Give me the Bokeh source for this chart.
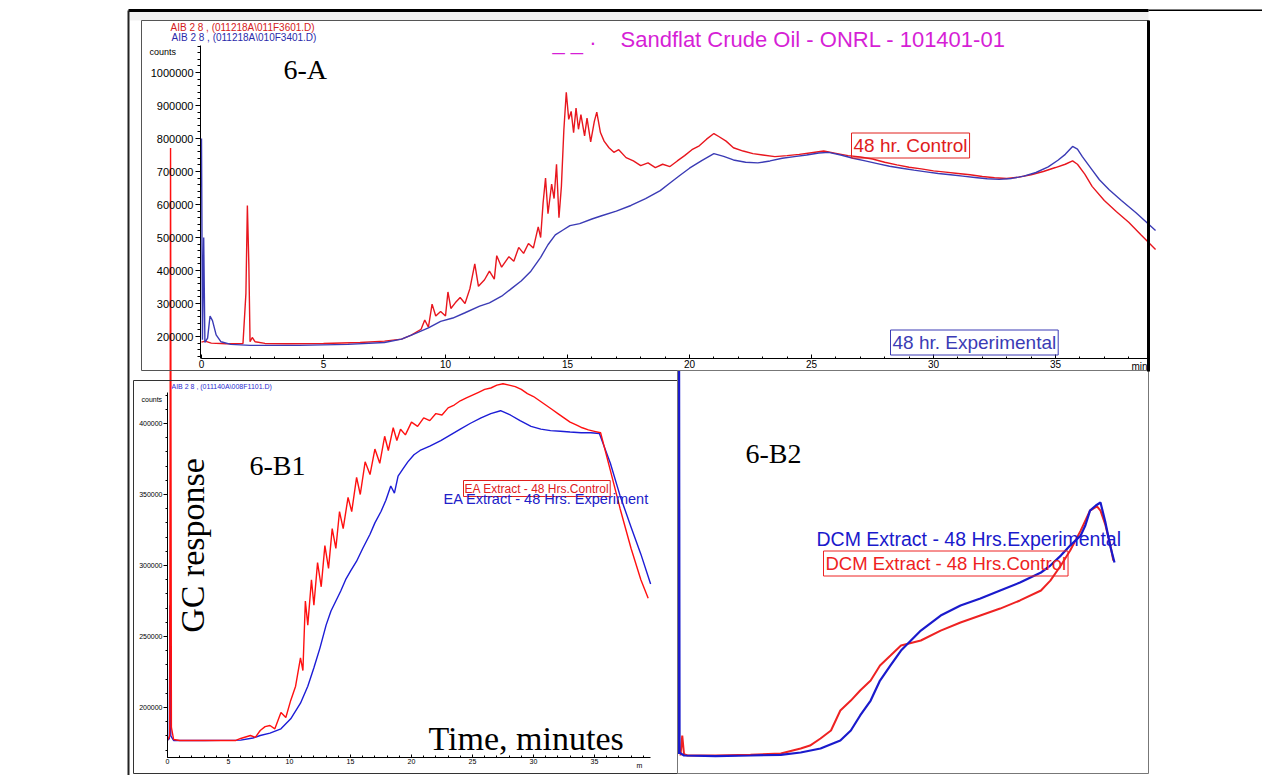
from math import pi
from bokeh.plotting import figure
from bokeh.models import (Range1d, LinearAxis, FixedTicker, BasicTickFormatter,
                          Label, BoxAnnotation)
from bokeh.embed import file_html
from bokeh.resources import INLINE

# ---------------- data (minutes, counts) ----------------
# Panel 6-A : Sandflat crude oil, 48 hr control (red) and experimental (blue)
a_control = [
    (0.00, 183000), (0.15, 186000), (0.40, 180000), (1.00, 178000), (1.70, 179000),
    (1.82, 330000), (1.88, 597000), (1.94, 420000), (1.99, 184000), (2.08, 197000),
    (2.20, 184000), (2.60, 179000), (3.50, 178000), (5.00, 179000), (6.50, 182000),
    (7.50, 186000), (8.20, 192000), (8.60, 204000), (9.00, 222000), (9.15, 250000),
    (9.30, 228000), (9.45, 298000), (9.60, 262000), (9.80, 276000), (10.00, 262000),
    (10.10, 335000), (10.22, 285000), (10.40, 302000), (10.60, 318000), (10.80, 300000),
    (11.00, 345000), (11.20, 420000), (11.35, 352000), (11.60, 372000), (11.80, 398000),
    (12.00, 374000), (12.10, 445000), (12.30, 410000), (12.60, 442000), (12.80, 428000),
    (13.00, 470000), (13.20, 452000), (13.40, 482000), (13.60, 468000), (13.80, 532000),
    (13.90, 500000), (14.00, 605000), (14.10, 680000), (14.20, 572000), (14.35, 662000),
    (14.45, 618000), (14.55, 722000), (14.65, 560000), (14.75, 655000), (14.85, 825000),
    (14.95, 940000), (15.05, 858000), (15.15, 882000), (15.25, 818000), (15.35, 892000),
    (15.45, 828000), (15.55, 872000), (15.70, 808000), (15.80, 862000), (15.95, 790000),
    (16.10, 852000), (16.20, 880000), (16.35, 818000), (16.50, 792000), (16.70, 772000),
    (16.90, 758000), (17.10, 766000), (17.40, 742000), (17.70, 732000), (18.00, 718000),
    (18.30, 726000), (18.60, 712000), (18.90, 722000), (19.20, 715000), (19.50, 732000),
    (19.80, 748000), (20.10, 766000), (20.40, 778000), (20.70, 798000), (21.00, 815000),
    (21.20, 806000), (21.50, 792000), (21.80, 772000), (22.20, 762000), (22.60, 754000),
    (23.00, 750000), (23.50, 745000), (24.00, 748000), (24.50, 752000), (25.00, 757000),
    (25.50, 762000), (26.00, 755000), (26.50, 748000), (27.00, 744000), (27.50, 738000),
    (28.00, 728000), (28.50, 720000), (29.00, 713000), (29.50, 708000), (30.00, 702000),
    (30.50, 698000), (31.00, 694000), (31.50, 690000), (32.00, 685000), (32.50, 681000),
    (33.00, 679000), (33.50, 683000), (34.00, 690000), (34.50, 700000), (35.00, 712000),
    (35.40, 722000), (35.70, 732000), (35.90, 722000), (36.20, 692000), (36.50, 655000),
    (37.00, 612000), (37.50, 578000), (38.00, 546000), (38.50, 508000), (39.10, 464000),
]
a_experimental = [
    (0.00, 800000), (0.04, 190000), (0.09, 500000), (0.14, 182000), (0.25, 195000),
    (0.35, 262000), (0.45, 248000), (0.60, 205000), (0.80, 184000), (1.20, 176000),
    (2.00, 173000), (4.00, 173000), (6.00, 176000), (7.50, 182000), (8.20, 192000),
    (8.80, 210000), (9.30, 226000), (9.80, 246000), (10.30, 256000), (10.80, 272000),
    (11.40, 292000), (11.80, 302000), (12.30, 322000), (12.70, 345000), (13.10, 368000),
    (13.50, 398000), (13.90, 440000), (14.20, 478000), (14.50, 508000), (14.80, 522000),
    (15.10, 536000), (15.50, 542000), (16.00, 556000), (16.40, 566000), (17.00, 580000),
    (17.60, 597000), (18.20, 618000), (18.80, 642000), (19.20, 665000), (19.60, 688000),
    (20.00, 710000), (20.50, 733000), (21.00, 754000), (21.40, 746000), (21.80, 735000),
    (22.30, 728000), (22.80, 726000), (23.30, 732000), (23.80, 740000), (24.30, 745000),
    (24.80, 750000), (25.30, 756000), (25.70, 758000), (26.20, 750000), (26.70, 740000),
    (27.20, 732000), (27.70, 724000), (28.20, 716000), (28.70, 710000), (29.20, 704000),
    (29.70, 699000), (30.20, 694000), (30.70, 690000), (31.20, 686000), (31.70, 682000),
    (32.20, 678000), (32.70, 676000), (33.20, 679000), (33.70, 686000), (34.20, 697000),
    (34.70, 714000), (35.10, 734000), (35.40, 752000), (35.70, 776000), (35.90, 768000),
    (36.10, 745000), (36.50, 705000), (36.80, 675000), (37.20, 645000), (37.70, 612000),
    (38.30, 575000), (39.10, 521000),
]
# Panel 6-B1 : EA extract
b1_control = [
    (0.00, 177000), (0.18, 180000), (0.25, 594000), (0.32, 186000), (0.50, 177500),
    (1.00, 176800), (3.00, 176800), (5.60, 176800), (6.00, 178200), (6.80, 180300),
    (7.20, 179000), (7.60, 183800), (8.00, 186500), (8.40, 187300), (8.80, 185000),
    (9.30, 196500), (9.70, 193000), (10.10, 205000), (10.50, 215000), (10.90, 235000),
    (11.10, 226000), (11.30, 275000), (11.50, 258000), (11.80, 290000), (12.00, 272000),
    (12.30, 302000), (12.60, 285000), (12.90, 314000), (13.20, 298000), (13.50, 326000),
    (13.80, 312000), (14.10, 338000), (14.40, 326000), (14.80, 348000), (15.10, 338000),
    (15.50, 362000), (15.80, 350000), (16.20, 373000), (16.60, 364000), (17.00, 382000),
    (17.40, 372000), (17.80, 391000), (18.10, 381000), (18.50, 397000), (18.80, 388000),
    (19.10, 396000), (19.50, 392000), (20.00, 401000), (20.50, 398000), (21.00, 404000),
    (21.50, 402000), (22.00, 407000), (22.50, 406000), (23.00, 411000), (23.50, 413000),
    (24.00, 416000), (24.50, 418000), (25.00, 420000), (25.50, 422000), (26.00, 424000),
    (26.50, 425000), (27.00, 427000), (27.50, 428000), (28.00, 427000), (28.50, 426000),
    (29.00, 424000), (29.50, 421000), (30.00, 419000), (30.50, 416000), (31.00, 413000),
    (31.50, 410000), (32.00, 407000), (32.50, 404000), (33.00, 401000), (33.50, 399000),
    (34.00, 397000), (34.50, 395500), (35.00, 394500), (35.50, 393500), (36.30, 367000),
    (37.10, 340000), (38.00, 312000), (38.80, 290000), (39.40, 277000),
]
b1_experimental = [
    (0.00, 177000), (0.15, 178000), (0.20, 272000), (0.27, 180000), (0.50, 176800),
    (3.00, 176800), (6.00, 177000), (7.00, 178500), (7.60, 180300), (8.40, 182000),
    (9.30, 185000), (10.10, 192000), (10.90, 203000), (11.50, 215000), (12.00, 228000),
    (12.50, 242000), (13.00, 258000), (13.40, 268000), (13.80, 275000), (14.20, 282000),
    (14.60, 290000), (15.00, 296000), (15.50, 303000), (16.00, 312000), (16.60, 322000),
    (17.00, 330000), (17.50, 338000), (17.90, 346000), (18.30, 356000), (18.60, 351000),
    (18.90, 363000), (19.30, 368000), (19.70, 373000), (20.20, 378000), (20.70, 381000),
    (21.50, 384000), (22.40, 388000), (23.20, 392000), (24.00, 396000), (24.80, 400000),
    (25.70, 404000), (26.50, 407000), (27.30, 409000), (28.10, 406000), (28.90, 402000),
    (29.80, 398000), (30.60, 396000), (31.40, 395000), (32.20, 394500), (33.00, 394000),
    (33.90, 393500), (34.70, 393500), (35.40, 393000), (36.30, 372000), (37.10, 349000),
    (38.00, 327000), (38.80, 308000), (39.60, 287000),
]
# Panel 6-B2 : DCM extract
b2_control = [
    (0.00, 175000), (0.15, 189000), (0.30, 176000), (0.60, 175000), (3.00, 175000),
    (6.00, 175500), (8.60, 176400), (10.30, 179900), (11.10, 182000), (12.00, 187000),
    (12.90, 192600), (13.70, 206700), (14.60, 213700), (15.40, 220800), (16.30, 227800),
    (17.10, 238400), (18.00, 245400), (18.90, 252500), (20.60, 256000), (22.30, 263000),
    (24.00, 268700), (25.70, 273600), (27.40, 278500), (29.10, 284200), (30.90, 291200),
    (31.70, 298200), (32.60, 308800), (33.40, 319400), (34.30, 333400), (35.10, 347500),
    (35.70, 350500), (36.00, 347500), (36.40, 338000), (36.85, 322900), (37.10, 312300),
]
b2_experimental = [
    (-0.15, 176000), (-0.12, 446000), (-0.08, 177000), (0.30, 175000), (3.00, 174500),
    (6.00, 175000), (8.60, 175500), (10.30, 177100), (12.00, 179900), (13.70, 185600),
    (14.60, 192600), (15.40, 203200), (16.30, 213700), (17.10, 227800), (18.00, 238400),
    (18.90, 248900), (20.60, 263000), (22.30, 273600), (24.00, 280600), (25.70, 285600),
    (27.40, 291200), (29.10, 296800), (30.90, 303900), (31.70, 308800), (32.60, 315800),
    (33.40, 322900), (34.30, 329900), (34.70, 337000), (35.10, 347500), (35.60, 351100),
    (36.00, 353200), (36.40, 340000), (36.85, 322000), (37.20, 311000),
]

a_xticks = [0, 5, 10, 15, 20, 25, 30, 35]
a_xminor = list(range(0, 39))
a_yticks = [200000, 300000, 400000, 500000, 600000, 700000, 800000, 900000, 1000000]
a_yminor = list(range(140000, 1081000, 20000))
b1_xticks = [0, 5, 10, 15, 20, 25, 30, 35]
b1_xminor = list(range(0, 40))
b1_yticks = [200000, 250000, 300000, 350000, 400000]
b1_yminor = list(range(170000, 421000, 10000))

# ---------------- figure ----------------
# (the page template of Bokeh puts the canvas at the top-left corner)
W, H = 1262, 775
X0, Y0 = 0, 0


def span_range(v0, p0, v1, p1, lo, hi):
    k = (v1 - v0) / (p1 - p0)
    return Range1d(start=v0 + (lo - p0) * k, end=v0 + (hi - p0) * k)


def split(pairs):
    return [a for a, _ in pairs], [b for _, b in pairs]


p = figure(width=W, height=H, x_range=Range1d(X0, X0 + W), y_range=Range1d(Y0 + H, Y0),
           x_axis_type=None, y_axis_type=None, output_backend="svg",
           toolbar_location=None, min_border=0, outline_line_color=None)
p.background_fill_color = "white"
p.border_fill_color = "white"

p.extra_x_ranges = {
    "ax": span_range(0, 201, 35, 1055, X0, X0 + W),
    "b1x": span_range(0, 167, 35, 594, X0, X0 + W),
    "b2x": span_range(0, 680, 36, 1100, X0, X0 + W),
}
p.extra_y_ranges = {
    "ay": span_range(200000, 336, 1000000, 72, Y0 + H, Y0),
    "b1y": span_range(200000, 707, 400000, 423, Y0 + H, Y0),
    "b2y": span_range(175000, 755, 353200, 502, Y0 + H, Y0),
}

SANS = "Liberation Sans"
SERIF = "Liberation Serif"


# frames / boxes
def box(l, r, t, b, fill=None, line=None, lw=1):
    p.add_layout(BoxAnnotation(left=l, right=r, top=t, bottom=b,
                               fill_color=fill if fill else "white",
                               fill_alpha=1 if fill else 0,
                               line_color=line if line else "white",
                               line_alpha=1 if line else 0,
                               line_width=lw))


box(129, 1148, 11, 20, fill="#f1f1f1")
box(141, 1148, 20, 370, line="#555555")
box(133, 677, 380, 773, line="#333333")
box(677, 1148, 370, 773, line="#777777")
box(128, 1148, 8.5, 11.5, fill="black")
box(1148, 1262, 9, 10.5, fill="black")
box(127, 129, 10, 775, fill="#222222")
box(1146.5, 1149.5, 20, 371, fill="black")

# lines
A_RED, A_BLUE = "#e8161e", "#3b3bb5"
B_RED, B_BLUE = "#ff1010", "#1c1cd6"

x, y = split(a_control)
p.line(x, y, x_range_name="ax", y_range_name="ay", line_color=A_RED, line_width=1.4)
x, y = split(a_experimental)
p.line(x, y, x_range_name="ax", y_range_name="ay", line_color=A_BLUE, line_width=1.4)

x, y = split(b1_experimental)
p.line(x, y, x_range_name="b1x", y_range_name="b1y", line_color=B_BLUE, line_width=1.4)
x, y = split(b1_control)
p.line(x, y, x_range_name="b1x", y_range_name="b1y", line_color=B_RED, line_width=1.4)

x, y = split(b2_control)
p.line(x, y, x_range_name="b2x", y_range_name="b2y", line_color="#ee2222", line_width=2)
x, y = split(b2_experimental)
p.line(x, y, x_range_name="b2x", y_range_name="b2y", line_color="#1a1acc", line_width=2.2)

# axes
common = dict(axis_line_color="black", major_tick_line_color="black",
              minor_tick_line_color="black", major_label_text_color="black",
              major_label_text_font=SANS)

ya = LinearAxis(y_range_name="ay", fixed_location=200, bounds=(133000, 1082000),
                ticker=FixedTicker(ticks=a_yticks, minor_ticks=a_yminor),
                formatter=BasicTickFormatter(use_scientific=False),
                major_tick_in=0, major_tick_out=5, minor_tick_in=0, minor_tick_out=3,
                major_label_standoff=2, major_label_text_font_size="11px", **common)
p.add_layout(ya, "left")
xa = LinearAxis(x_range_name="ax", fixed_location=358, bounds=(0, 38.8),
                ticker=FixedTicker(ticks=a_xticks, minor_ticks=a_xminor),
                major_tick_in=4, major_tick_out=0, minor_tick_in=2, minor_tick_out=0,
                major_label_standoff=1, major_label_text_font_size="10px", **common)
p.add_layout(xa, "below")

yb = LinearAxis(y_range_name="b1y", fixed_location=167, bounds=(165000, 421800),
                ticker=FixedTicker(ticks=b1_yticks, minor_ticks=b1_yminor),
                formatter=BasicTickFormatter(use_scientific=False),
                major_tick_in=0, major_tick_out=4, minor_tick_in=0, minor_tick_out=2,
                major_label_standoff=1, major_label_text_font_size="7px", **common)
p.add_layout(yb, "left")
xb = LinearAxis(x_range_name="b1x", fixed_location=757, bounds=(0, 39.6),
                ticker=FixedTicker(ticks=b1_xticks, minor_ticks=b1_xminor),
                major_tick_in=3, major_tick_out=0, minor_tick_in=2, minor_tick_out=0,
                major_label_standoff=1, major_label_text_font_size="7px", **common)
p.add_layout(xb, "below")


# texts
def lab(x, y, text, color="black", size=12, font=SANS, align="left", baseline="middle",
        angle=0, **kw):
    p.add_layout(Label(x=x, y=y, text=text, text_color=color, text_font=font,
                       text_font_size=f"{size}px", text_align=align,
                       text_baseline=baseline, angle=angle, **kw))


lab(170, 27, "AIB 2 8 ,  (011218A\\011F3601.D)", "#d42020", 10)
lab(171, 37, "AIB 2 8 ,  (011218A\\010F3401.D)", "#2a2aaa", 10)
lab(149, 51, "counts", "black", 9)
lab(1131, 366, "min", "black", 10)
lab(552, 42, "_   _  \u00b7", "#d61fd6", 22, baseline="alphabetic")
lab(620, 39, "Sandflat Crude Oil - ONRL - 101401-01", "#d61fd6", 22)
lab(283, 69, "6-A", "black", 28, font=SERIF)
lab(851, 145, "48 hr. Control", "#e0201c", 19,
    border_line_color="#e0201c", padding=2)
lab(890, 342, "48 hr. Experimental", "#3b3bb5", 19,
    border_line_color="#3b3bb5", padding=2)

lab(171, 386, "AIB 2 8 ,  (011140A\\008F1101.D)", "#2a2ad0", 7)
lab(141, 399, "counts", "black", 7)
lab(249, 465, "6-B1", "black", 28, font=SERIF)
lab(192, 545, "GC response", "black", 34, font=SERIF, align="center", angle=pi / 2)
lab(428, 738, "Time, minutes", "black", 34, font=SERIF)
lab(463, 488, "EA Extract - 48 Hrs.Control", "#e0201c", 12,
    border_line_color="#e0201c", padding=1)
lab(443, 498, "EA Extract - 48 Hrs. Experiment", "#2020c8", 14.5)
lab(636, 768, "m", "black", 7, baseline="bottom")

lab(745, 453, "6-B2", "black", 28, font=SERIF)
lab(816, 538, "DCM Extract - 48 Hrs.Experimental", "#1a1acc", 19.5)
lab(823, 563, "DCM Extract - 48 Hrs.Control", "#ee2222", 18.5,
    border_line_color="#ee2222", padding=2)

open("out.html", "w").write(file_html(p, INLINE))
